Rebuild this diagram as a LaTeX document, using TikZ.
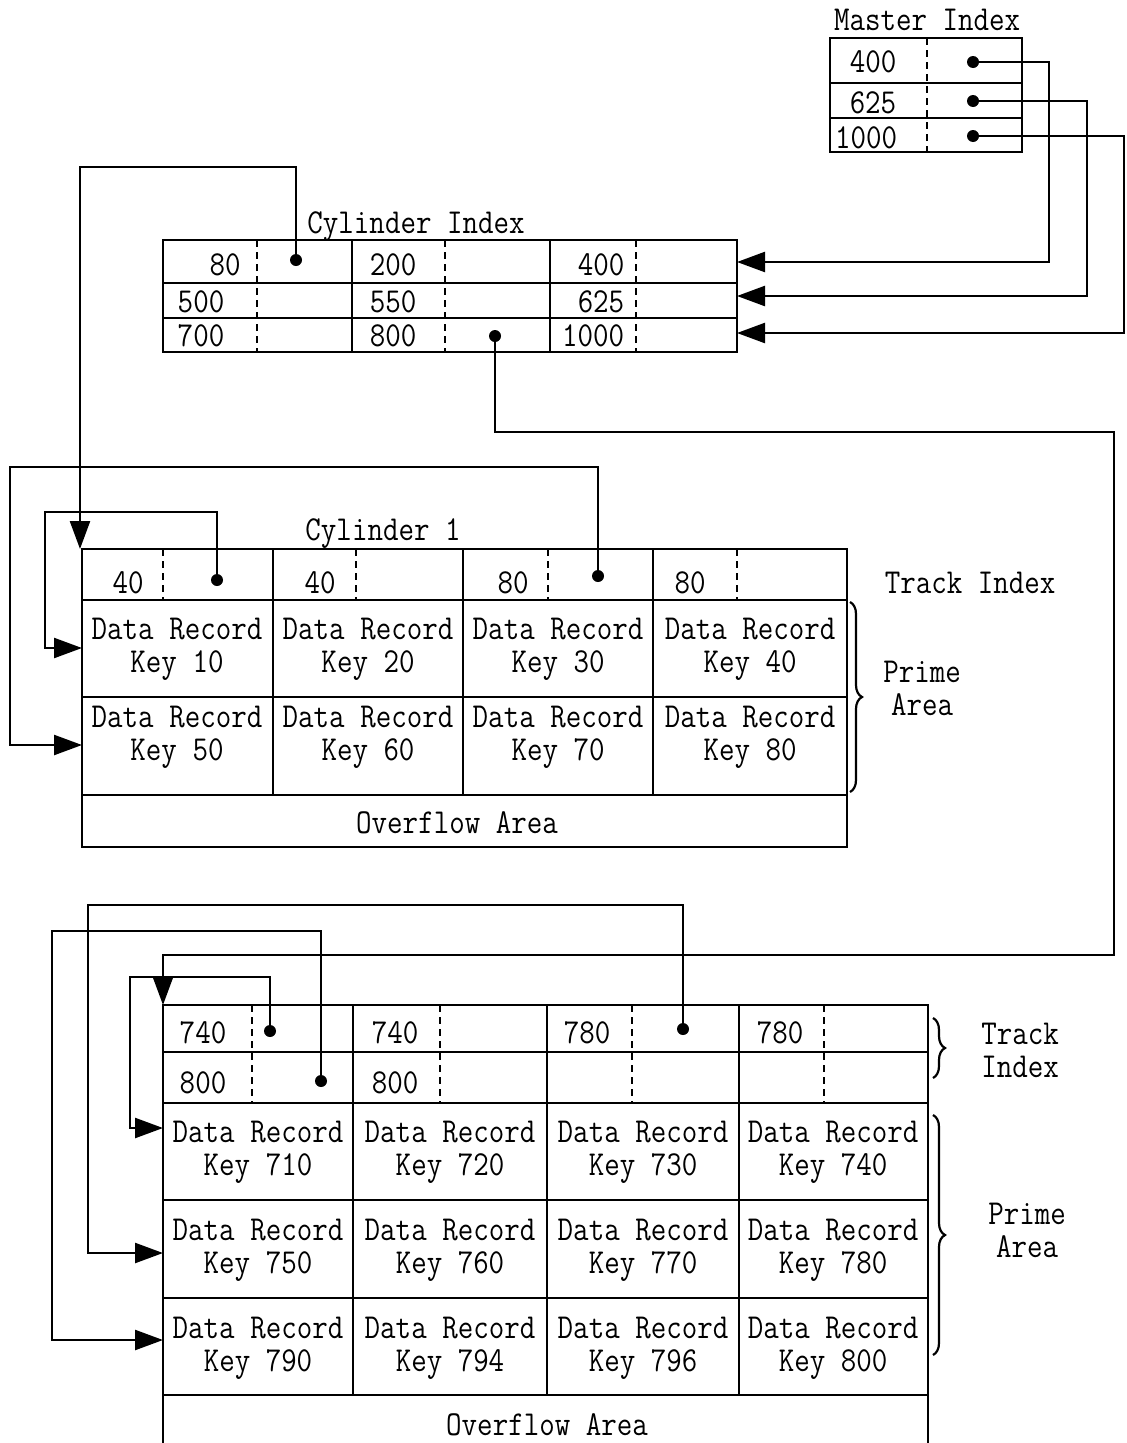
\documentclass[tikz,border=0pt]{standalone}
\usepackage{fontspec}
\usetikzlibrary{arrows.meta,decorations.pathreplacing}
\newcommand{\tw}[1]{\scalebox{0.86}[1]{#1}}
\begin{document}
\begin{tikzpicture}[x=1pt,y=-1pt,
  ln/.style={line width=2.4pt},
  dsh/.style={line width=2.2pt, dash pattern=on 7pt off 5pt},
  txt/.style={font=\ttfamily\fontsize{35}{33}\selectfont, inner sep=0pt, align=center},
  dot/.style={circle, fill=black, inner sep=0pt, minimum width=11pt, minimum height=12pt},
  arr/.style={line width=2.4pt, -{Triangle[length=28pt,width=20pt]}},
  brc/.style={line width=2.2pt, decorate, decoration={brace, amplitude=12pt}}]
\useasboundingbox (0,0) rectangle (1127,1443);
\fill[white] (0,0) rectangle (1127,1443);

% ---------------- Master Index ----------------
\node[txt] (mtitle) at (927,20) {\tw{Master Index}};
\draw[ln] (830,38) rectangle (1022,152);
\draw[ln] (830,83) -- (1022,83) (830,118) -- (1022,118);
\draw[dsh] (927,38) -- (927,152);
\node[txt] (m400) at (873,62) {\tw{400}};
\node[txt] (m625) at (873,103) {\tw{625}};
\node[txt] (m1000) at (866,138) {\tw{1000}};
\node[dot] (md1) at (973,62) {};
\node[dot] (md2) at (973,101) {};
\node[dot] (md3) at (973,136) {};

% ---------------- Cylinder Index ----------------
\node[txt] (ctitle) at (416,227) {\tw{Cylinder Index}};
\draw[ln] (163,240) rectangle (737,352);
\draw[ln] (163,283) -- (737,283) (163,318) -- (737,318);
\draw[ln] (352,240) -- (352,352) (550,240) -- (550,352);
\draw[dsh] (257,240) -- (257,352) (445,240) -- (445,352) (636,240) -- (636,352);
\node[txt] (c80) at (225,265) {\tw{80}};
\node[txt] (c200) at (393,265) {\tw{200}};
\node[txt] (c400) at (601,265) {\tw{400}};
\node[txt] (c500) at (201,302) {\tw{500}};
\node[txt] (c550) at (393,302) {\tw{550}};
\node[txt] (c625) at (601,302) {\tw{625}};
\node[txt] (c700) at (201,336) {\tw{700}};
\node[txt] (c800) at (393,336) {\tw{800}};
\node[txt] (c1000) at (593,336) {\tw{1000}};
\node[dot] (cd1) at (296,260) {};
\node[dot] (cd2) at (495,336) {};
\coordinate (ci1) at (737,262);
\coordinate (ci2) at (737,296);
\coordinate (ci3) at (737,333);

% ---------------- Cylinder 1 ----------------
\node[txt] (cyl1) at (383,534) {\tw{Cylinder 1}};
\draw[ln] (82,549) rectangle (847,847);
\draw[ln] (82,600) -- (847,600) (82,697) -- (847,697) (82,795) -- (847,795);
\draw[ln] (273,549) -- (273,795) (463,549) -- (463,795) (653,549) -- (653,795);
\draw[dsh] (163,549) -- (163,600) (356,549) -- (356,600) (548,549) -- (548,600) (737,549) -- (737,600);
\node[txt] (k1a) at (128,583) {\tw{40}};
\node[txt] (k1b) at (320,583) {\tw{40}};
\node[txt] (k1c) at (513,583) {\tw{80}};
\node[txt] (k1d) at (690,583) {\tw{80}};
\node[dot] (t1) at (217,580) {};
\node[dot] (t2) at (598,576) {};
\node[txt] (r10) at (177,649) {\tw{Data Record}\\\tw{Key 10}};
\node[txt] (r20) at (368,649) {\tw{Data Record}\\\tw{Key 20}};
\node[txt] (r30) at (558,649) {\tw{Data Record}\\\tw{Key 30}};
\node[txt] (r40) at (750,649) {\tw{Data Record}\\\tw{Key 40}};
\node[txt] (r50) at (177,737) {\tw{Data Record}\\\tw{Key 50}};
\node[txt] (r60) at (368,737) {\tw{Data Record}\\\tw{Key 60}};
\node[txt] (r70) at (558,737) {\tw{Data Record}\\\tw{Key 70}};
\node[txt] (r80) at (750,737) {\tw{Data Record}\\\tw{Key 80}};
\node[txt] (ov1) at (457,823) {\tw{Overflow Area}};
\node[txt] (ti1) at (970,583) {\tw{Track Index}};
\draw[brc] (850,602) -- (850,792);
\node[txt] (pa1) at (922,688) {\tw{Prime}\\\tw{Area}};
\coordinate (c1top) at (80,549);
\coordinate (c1r1) at (82,648);
\coordinate (c1r2) at (82,745);

% ---------------- Lower cylinder ----------------
\draw[ln] (163,1443) -- (163,1005) -- (928,1005) -- (928,1443);
\draw[ln] (163,1052) -- (928,1052) (163,1103) -- (928,1103) (163,1200) -- (928,1200)
          (163,1298) -- (928,1298) (163,1395) -- (928,1395);
\draw[ln] (353,1005) -- (353,1395) (547,1005) -- (547,1395) (739,1005) -- (739,1395);
\draw[dsh] (252,1005) -- (252,1103) (440,1005) -- (440,1103) (632,1005) -- (632,1103) (824,1005) -- (824,1103);
\node[txt] (k2a) at (203,1033) {\tw{740}};
\node[txt] (k2b) at (395,1033) {\tw{740}};
\node[txt] (k2c) at (587,1033) {\tw{780}};
\node[txt] (k2d) at (780,1033) {\tw{780}};
\node[txt] (k2e) at (203,1083) {\tw{800}};
\node[txt] (k2f) at (395,1083) {\tw{800}};
\node[dot] (bd1) at (270,1031) {};
\node[dot] (bd2) at (321,1081) {};
\node[dot] (bd3) at (683,1029) {};
\node[txt] (r710) at (258,1152) {\tw{Data Record}\\\tw{Key 710}};
\node[txt] (r720) at (450,1152) {\tw{Data Record}\\\tw{Key 720}};
\node[txt] (r730) at (643,1152) {\tw{Data Record}\\\tw{Key 730}};
\node[txt] (r740) at (833,1152) {\tw{Data Record}\\\tw{Key 740}};
\node[txt] (r750) at (258,1250) {\tw{Data Record}\\\tw{Key 750}};
\node[txt] (r760) at (450,1250) {\tw{Data Record}\\\tw{Key 760}};
\node[txt] (r770) at (643,1250) {\tw{Data Record}\\\tw{Key 770}};
\node[txt] (r780) at (833,1250) {\tw{Data Record}\\\tw{Key 780}};
\node[txt] (r790) at (258,1348) {\tw{Data Record}\\\tw{Key 790}};
\node[txt] (r794) at (450,1348) {\tw{Data Record}\\\tw{Key 794}};
\node[txt] (r796) at (643,1348) {\tw{Data Record}\\\tw{Key 796}};
\node[txt] (r800) at (833,1348) {\tw{Data Record}\\\tw{Key 800}};
\node[txt] (ov2) at (547,1425) {\tw{Overflow Area}};
\draw[brc] (933,1018) -- (933,1078);
\node[txt] (ti2) at (1020,1050) {\tw{Track}\\\tw{Index}};
\draw[brc] (933,1115) -- (933,1355);
\node[txt] (pa2) at (1027,1230) {\tw{Prime}\\\tw{Area}};
\coordinate (btop) at (163,1005);
\coordinate (br1) at (163,1128);
\coordinate (br2) at (163,1253);
\coordinate (br3) at (163,1340);

% ---------------- Connectors ----------------
\draw[arr] (md1.center) -- (1049,62) |- (ci1);
\draw[arr] (md2.center) -- (1087,101) |- (ci2);
\draw[arr] (md3.center) -- (1124,136) |- (ci3);
\draw[arr] (cd1.center) |- (80,167) -- (c1top);
\draw[arr] (cd2.center) |- (1114,432) |- (163,955) -- (btop);
\draw[arr] (t1.center) |- (45,512) |- (c1r1);
\draw[arr] (t2.center) |- (10,467) |- (c1r2);
\draw[arr] (bd1.center) |- (130,977) |- (br1);
\draw[arr] (bd3.center) |- (88,905) |- (br2);
\draw[arr] (bd2.center) |- (52,931) |- (br3);
\end{tikzpicture}
\end{document}
